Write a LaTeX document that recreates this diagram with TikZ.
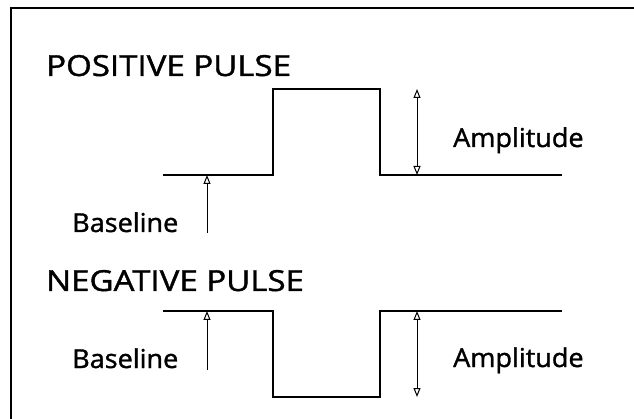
\documentclass[tikz,border=0pt]{standalone}
\usepackage{fontspec}
\setmainfont{Open Sans}
\newfontfamily\heavyfont[FakeBold=1.3]{Open Sans}
\usetikzlibrary{arrows.meta}
\begin{document}
\begin{tikzpicture}[x=1pt,y=-1pt,
  wave/.style={line width=1.4pt},
  framed/.style={line width=1.5pt},
  arr/.style={line width=1pt},
  otip/.tip={Triangle[open,length=9pt,width=7pt,line width=1pt]},
  lbl/.style={inner sep=0pt,anchor=base west,font=\heavyfont\fontsize{26}{26}\selectfont},
  ttl/.style={inner sep=0pt,anchor=base west,font=\heavyfont\fontsize{29}{29}\selectfont}]
\useasboundingbox (0,0) rectangle (634,419);
% frame
\coordinate (fr1) at (11,419);
\coordinate (fr2) at (11,8);
\coordinate (fr3) at (634,8);
\draw[framed] (fr1) -- (fr2) -- (fr3);
% titles
\node[ttl] (t1) at (46,76) {\scalebox{1.14}[1]{POSITIVE PULSE}};
\node[ttl] (t2) at (46,291) {\scalebox{1.14}[1]{NEGATIVE PULSE}};
% positive pulse
\coordinate (p0) at (163,175);
\coordinate (p1) at (273,175);
\coordinate (p2) at (273,89);
\coordinate (p3) at (380,89);
\coordinate (p4) at (380,175);
\coordinate (p5) at (562,175);
\draw[wave] (p0) -- (p1) -- (p2) -- (p3) -- (p4) -- (p5);
% negative pulse
\coordinate (n0) at (163,311);
\coordinate (n1) at (273,311);
\coordinate (n2) at (273,397);
\coordinate (n3) at (380,397);
\coordinate (n4) at (380,311);
\coordinate (n5) at (562,311);
\draw[wave] (n0) -- (n1) -- (n2) -- (n3) -- (n4) -- (n5);
% labels
\node[lbl] (b1) at (72,232) {\scalebox{1.04}[1]{Baseline}};
\node[lbl] (b2) at (72,368) {\scalebox{1.04}[1]{Baseline}};
\node[lbl] (a1) at (453,147) {\scalebox{1.04}[1]{Amplitude}};
\node[lbl] (a2) at (453,367) {\scalebox{1.04}[1]{Amplitude}};
% arrows
\coordinate (ba1s) at (207,233);
\coordinate (ba1e) at (207,175);
\draw[arr,-otip] (ba1s) -- (ba1e);
\coordinate (ba2s) at (207,370);
\coordinate (ba2e) at (207,311);
\draw[arr,-otip] (ba2s) -- (ba2e);
\coordinate (am1t) at (417,89);
\coordinate (am1b) at (417,175);
\draw[arr,otip-otip] (am1t) -- (am1b);
\coordinate (am2t) at (417,311);
\coordinate (am2b) at (417,397);
\draw[arr,otip-otip] (am2t) -- (am2b);
\end{tikzpicture}
\end{document}
